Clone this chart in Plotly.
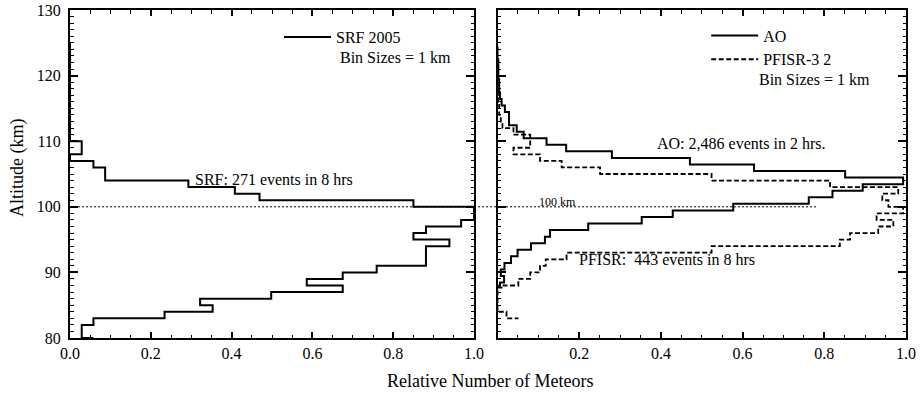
import plotly.graph_objects as go

# ---------------- data ----------------
# Left panel: SRF 2005 altitude histogram (step profile: bin top edge, value)
srf_alt = [125, 110, 108, 107, 106, 104, 103, 102, 101, 100, 98, 97, 96, 95, 94,
           91, 90, 89, 88, 87, 86, 85, 84, 83, 82, 80]
srf_val = [0.0, 0.029, 0.0, 0.058, 0.087, 0.293, 0.408, 0.469, 0.85, 1.0, 0.968,
           0.881, 0.85, 0.939, 0.881, 0.759, 0.675, 0.586, 0.675, 0.498, 0.322,
           0.353, 0.234, 0.058, 0.029, 0.058]

# Right panel: AO (solid)
ao_alt = [124.45, 122.45, 119.45, 117.45, 116.45, 115.45, 114.45, 112.45, 111.45,
          110.45, 109.45, 108.45, 107.45, 106.45, 105.45, 104.45, 103.45, 102.45,
          101.45, 100.45, 99.45, 98.45, 97.45, 96.45, 95.45, 94.45, 93.45, 92.45,
          91.45, 90.45, 89.45, 88.45, 87.95]
ao_val = [0.0, 0.002, 0.004, 0.006, 0.01, 0.018, 0.028, 0.047, 0.064, 0.12, 0.168,
          0.28, 0.471, 0.628, 0.851, 0.993, 0.894, 0.82, 0.762, 0.577, 0.429, 0.353,
          0.222, 0.1285, 0.116, 0.082, 0.049, 0.033, 0.017, 0.008, 0.016, 0.006, 0.0]

# Right panel: PFISR-3 2 (dashed)
pf_alt = [120, 119, 116, 114, 113, 112, 111, 109, 108, 107, 106, 105, 104, 103, 102,
          101, 100, 99, 98, 97, 96, 95, 94, 93, 92, 91, 90, 89, 88, 87.7, 84, 83]
pf_val = [0.0, 0.002, 0.004, 0.008, 0.012, 0.039, 0.08, 0.039, 0.104, 0.157, 0.251,
          0.524, 0.814, 0.981, 0.942, 0.957, 0.993, 0.928, 0.969, 0.932, 0.863, 0.838,
          0.524, 0.169, 0.118, 0.104, 0.08, 0.051, 0.01, 0.0, 0.022, 0.051]

x_tick_vals = [0.0, 0.2, 0.4, 0.6, 0.8, 1.0]
x_tick_left = ["0.0", "0.2", "0.4", "0.6", "0.8", "1.0"]
x_tick_right = ["", "0.2", "0.4", "0.6", "0.8", "1.0"]
y_tick_vals = [80, 90, 100, 110, 120, 130]

FONT = "Liberation Serif"

fig = go.Figure()
fig.add_trace(go.Scatter(x=srf_val, y=srf_alt, mode="lines", line_shape="vh",
                         line=dict(color="black", width=2), name="SRF 2005",
                         xaxis="x", yaxis="y", legend="legend", showlegend=True))
fig.add_trace(go.Scatter(x=ao_val, y=ao_alt, mode="lines", line_shape="vh",
                         line=dict(color="black", width=2), name="AO",
                         xaxis="x2", yaxis="y2", legend="legend2", showlegend=True))
fig.add_trace(go.Scatter(x=pf_val, y=pf_alt, mode="lines", line_shape="vh",
                         line=dict(color="black", width=1.8, dash="5px,2.5px"),
                         name="PFISR-3 2", xaxis="x2", yaxis="y2", legend="legend2",
                         showlegend=True))

axis_common = dict(showline=True, linecolor="black", linewidth=2, mirror="ticks",
                   ticks="inside", tickcolor="black", tickwidth=1.5, showgrid=False,
                   zeroline=False, automargin=False,
                   tickfont=dict(family=FONT, size=16, color="black"))

xminor = dict(ticks="inside", dtick=0.05, ticklen=3.5, tickcolor="black", tickwidth=1.2)
yminor = dict(ticks="inside", dtick=1, ticklen=3.5, tickcolor="black", tickwidth=1.2)

fig.update_layout(
    width=921, height=396,
    margin=dict(l=70, r=15, t=10, b=58, autoexpand=False),
    paper_bgcolor="white", plot_bgcolor="white",
    showlegend=True,
    font=dict(family=FONT, size=16, color="black"),
    xaxis=dict(domain=[0, 0.4833], range=[0, 1], tickvals=x_tick_vals,
               ticktext=x_tick_left, ticklen=6, minor=xminor, anchor="y",
               **axis_common),
    xaxis2=dict(domain=[0.5114, 1], range=[0, 1], tickvals=x_tick_vals,
                ticktext=x_tick_right, ticklen=6, minor=xminor, anchor="y2",
                **axis_common),
    yaxis=dict(domain=[0, 1], range=[80, 130], tickvals=y_tick_vals, ticklen=8,
               minor=yminor, anchor="x", ticklabelstandoff=4, **axis_common),
    yaxis2=dict(domain=[0, 1], range=[80, 130], tickvals=y_tick_vals, ticklen=8,
                minor=yminor, anchor="x2", showticklabels=False, **axis_common),
    legend=dict(x=0.25, y=0.969, xanchor="left", yanchor="top",
                bgcolor="rgba(0,0,0,0)", font=dict(family=FONT, size=16),
                itemwidth=47),
    legend2=dict(x=0.761, y=0.974, xanchor="left", yanchor="top",
                 bgcolor="rgba(0,0,0,0)", font=dict(family=FONT, size=16),
                 itemwidth=47),
)

# dotted 100 km reference line spanning both panels
fig.add_shape(type="line", xref="paper", yref="y", x0=0, x1=0.8947, y0=100, y1=100,
              line=dict(color="black", width=1, dash="2px,2px"))

ann = dict(showarrow=False, font=dict(family=FONT, size=16, color="black"))
fig.add_annotation(x=0.305, y=104.2, xref="x", yref="y", text="SRF: 271 events in 8 hrs",
                   xanchor="left", yanchor="middle", **ann)
fig.add_annotation(x=0.386, y=109.7, xref="x2", yref="y2", text="AO: 2,486 events in 2 hrs.",
                   xanchor="left", yanchor="middle", **ann)
fig.add_annotation(x=0.195, y=92.0, xref="x2", yref="y2",
                   text="PFISR:\u00a0 443 events in 8 hrs",
                   xanchor="left", yanchor="middle", **ann)
fig.add_annotation(x=0.146, y=100.8, xref="x2", yref="y2", text="100 km",
                   xanchor="center", yanchor="middle",
                   showarrow=False, font=dict(family=FONT, size=12, color="black"))
fig.add_annotation(x=(338 - 70) / 836, y=(338 - 57) / 328, xref="paper", yref="paper",
                   text="Bin Sizes = 1 km", xanchor="left", yanchor="middle", **ann)
fig.add_annotation(x=(757 - 70) / 836, y=(338 - 80) / 328, xref="paper", yref="paper",
                   text="Bin Sizes = 1 km", xanchor="left", yanchor="middle", **ann)
# axis titles
fig.add_annotation(x=(490 - 70) / 836, y=(338 - 381) / 328, xref="paper", yref="paper",
                   text="Relative Number of Meteors", xanchor="center", yanchor="middle",
                   showarrow=False, font=dict(family=FONT, size=18, color="black"))
fig.add_annotation(x=(17 - 70) / 836, y=(338 - 168) / 328, xref="paper", yref="paper",
                   text="Altitude (km)", textangle=-90, xanchor="center", yanchor="middle",
                   showarrow=False, font=dict(family=FONT, size=18, color="black"))

fig.write_html("out.html", config={"displayModeBar": False},
               post_script="document.body.style.margin='0';document.body.style.padding='0';")
